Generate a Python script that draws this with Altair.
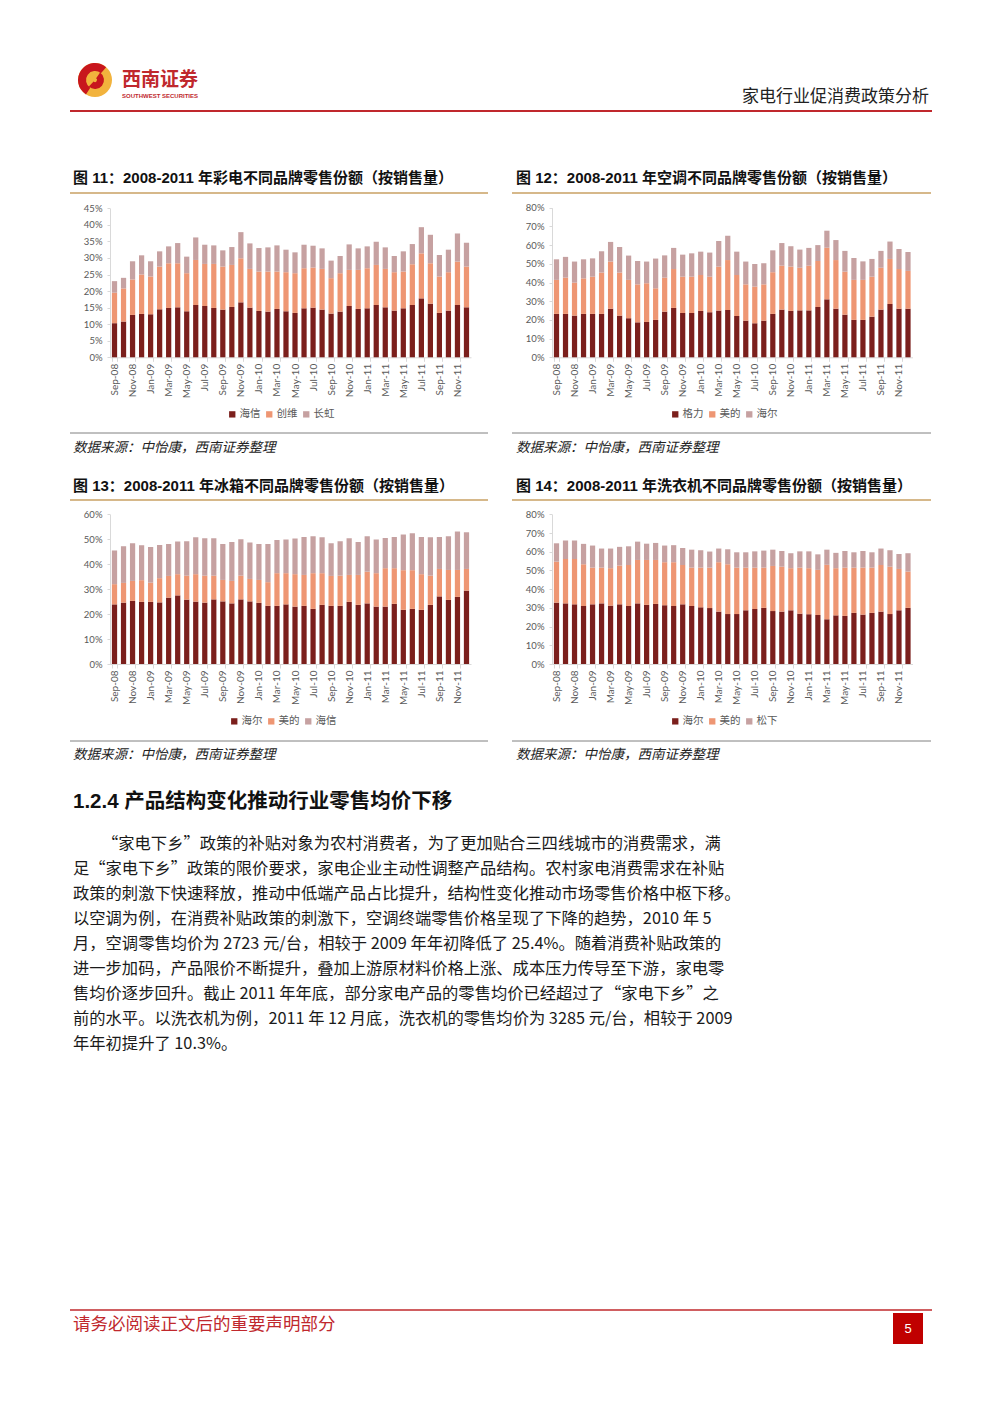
import altair as alt
import pandas as pd

# ---------------- data ----------------
months = ['Sep-08', 'Oct-08', 'Nov-08', 'Dec-08',
          'Jan-09', 'Feb-09', 'Mar-09', 'Apr-09', 'May-09', 'Jun-09',
          'Jul-09', 'Aug-09', 'Sep-09', 'Oct-09', 'Nov-09', 'Dec-09',
          'Jan-10', 'Feb-10', 'Mar-10', 'Apr-10', 'May-10', 'Jun-10',
          'Jul-10', 'Aug-10', 'Sep-10', 'Oct-10', 'Nov-10', 'Dec-10',
          'Jan-11', 'Feb-11', 'Mar-11', 'Apr-11', 'May-11', 'Jun-11',
          'Jul-11', 'Aug-11', 'Sep-11', 'Oct-11', 'Nov-11', 'Dec-11']

# 图11 彩电 (%)
tv_names = ['海信', '创维', '长虹']
tv_hisense = [10.3, 10.8, 12.8, 13.1, 13.0, 14.5, 14.9, 15.1, 13.9, 15.8,
              15.5, 14.9, 14.4, 15.2, 16.6, 15.0, 14.0, 13.8, 14.6, 13.9,
              13.4, 14.8, 15.0, 14.4, 13.2, 13.8, 15.5, 14.6, 14.8, 15.8,
              15.1, 14.1, 14.8, 15.8, 17.8, 16.2, 13.4, 14.1, 15.8, 15.1]
tv_skyworth = [9.2, 10.0, 10.7, 11.9, 11.4, 12.9, 13.5, 13.3, 11.5, 13.6,
               12.7, 13.3, 13.0, 12.7, 13.3, 11.7, 11.9, 12.1, 11.3, 11.8,
               12.0, 12.1, 12.1, 12.3, 10.7, 11.6, 10.9, 11.8, 12.1, 12.1,
               11.6, 11.6, 11.1, 12.3, 13.6, 12.2, 11.0, 11.6, 13.1, 12.3]
tv_changhong = [3.5, 3.2, 5.5, 5.8, 4.6, 4.6, 5.1, 6.1, 5.0, 6.8,
                5.8, 5.6, 4.9, 5.4, 7.9, 7.7, 7.1, 7.3, 7.9, 6.8,
                6.3, 7.1, 6.6, 6.2, 5.3, 5.2, 7.7, 6.5, 6.6, 7.0,
                6.5, 4.9, 6.1, 6.1, 7.9, 8.6, 6.5, 6.8, 8.5, 7.2]

# 图12 空调 (%)
ac_names = ['格力', '美的', '海尔']
ac_gree = [23.2, 23.2, 22.3, 23.2, 23.2, 23.2, 26.0, 22.3, 20.9, 18.7,
           18.9, 20.0, 24.4, 26.4, 23.7, 23.7, 24.8, 24.1, 25.0, 25.3,
           22.1, 19.6, 18.2, 19.6, 23.2, 25.5, 24.8, 25.1, 25.1, 26.9,
           31.0, 26.0, 22.8, 20.0, 20.0, 21.7, 25.5, 28.5, 26.0, 26.0]
ac_midea = [18.2, 19.4, 17.6, 19.0, 19.9, 22.1, 25.2, 23.0, 20.5, 20.3,
            20.7, 16.9, 18.2, 20.8, 19.4, 19.4, 19.2, 19.0, 23.5, 26.7,
            21.9, 19.4, 19.6, 19.4, 22.3, 23.5, 23.7, 22.8, 23.9, 24.6,
            27.6, 26.0, 23.0, 21.4, 21.4, 21.4, 22.4, 24.1, 21.2, 20.2]
ac_haier = [11.0, 11.1, 11.3, 10.2, 9.8, 11.4, 10.5, 13.7, 13.0, 12.5,
            11.6, 15.9, 11.9, 11.3, 11.8, 12.5, 12.5, 12.9, 13.7, 13.0,
            12.5, 12.2, 12.1, 11.3, 11.7, 12.1, 10.9, 9.7, 9.5, 8.5,
            9.1, 10.7, 11.1, 11.7, 9.9, 9.5, 9.0, 9.3, 10.7, 10.1]

# 图13 冰箱 (%)
fr_names = ['海尔', '美的', '海信']
fr_haier = [23.9, 24.6, 25.3, 24.9, 24.9, 24.7, 26.6, 27.5, 25.8, 25.0,
            24.6, 25.9, 25.1, 24.3, 25.9, 25.1, 24.5, 23.3, 23.3, 23.9,
            23.0, 23.3, 22.1, 23.7, 23.3, 23.3, 24.9, 23.7, 24.3, 23.0,
            23.0, 24.1, 21.7, 22.1, 21.7, 23.7, 27.1, 25.7, 26.9, 29.4]
fr_midea = [8.1, 7.9, 8.0, 8.7, 7.7, 9.7, 8.7, 8.5, 9.6, 11.0,
            10.8, 9.5, 8.6, 9.0, 9.5, 9.0, 9.2, 9.5, 13.1, 12.5,
            13.0, 12.4, 14.3, 12.7, 12.0, 12.1, 10.8, 12.0, 12.7, 13.4,
            15.4, 14.3, 15.9, 15.5, 14.3, 11.7, 11.0, 12.0, 10.8, 8.7]
fr_hisense = [13.5, 14.7, 15.1, 14.0, 14.3, 13.3, 12.8, 13.1, 13.8, 14.8,
              15.0, 15.0, 14.4, 15.6, 14.6, 14.6, 14.4, 15.3, 13.3, 13.5,
              14.3, 15.2, 14.8, 14.4, 13.1, 13.8, 14.7, 13.2, 14.2, 13.5,
              12.1, 12.5, 14.3, 14.8, 14.9, 15.4, 12.8, 13.5, 15.4, 14.7]

# 图14 洗衣机 (%)
wm_names = ['海尔', '美的', '松下']
wm_haier = [32.8, 32.4, 31.9, 31.0, 31.9, 32.4, 31.2, 31.9, 31.0, 32.4,
            31.6, 32.1, 31.4, 31.0, 31.9, 31.0, 30.3, 29.9, 28.0, 26.7,
            26.7, 28.7, 29.4, 30.0, 28.3, 28.0, 28.7, 26.9, 26.6, 26.2,
            23.9, 26.0, 25.7, 27.3, 26.4, 27.3, 28.0, 26.7, 28.7, 30.0]
wm_midea = [21.9, 23.7, 24.2, 22.3, 19.6, 19.1, 20.0, 20.7, 21.9, 23.2,
            24.0, 23.5, 23.0, 23.4, 21.0, 20.5, 21.2, 21.6, 26.4, 26.6,
            24.8, 22.8, 22.1, 21.5, 24.1, 24.0, 22.5, 24.6, 24.6, 24.1,
            29.1, 25.2, 25.8, 24.2, 25.1, 24.2, 24.9, 25.3, 22.1, 19.4]
wm_panasonic = [9.8, 9.9, 9.9, 10.9, 11.8, 10.2, 10.5, 10.0, 10.0, 9.8,
                8.7, 9.1, 8.9, 9.1, 9.1, 9.6, 9.3, 8.6, 7.3, 8.0,
                8.2, 8.2, 8.7, 9.1, 8.7, 8.4, 8.0, 8.7, 9.0, 8.3,
                8.1, 8.2, 8.9, 8.2, 8.9, 8.2, 8.8, 8.8, 8.0, 9.8]

titles = ['图 11：2008-2011 年彩电不同品牌零售份额（按销售量）',
          '图 12：2008-2011 年空调不同品牌零售份额（按销售量）',
          '图 13：2008-2011 年冰箱不同品牌零售份额（按销售量）',
          '图 14：2008-2011 年洗衣机不同品牌零售份额（按销售量）']
source_text = '数据来源：中怡康，西南证券整理'
header_title = '家电行业促消费政策分析'
section_title = '1.2.4 产品结构变化推动行业零售均价下移'
paragraph_first = '“家电下乡”政策的补贴对象为农村消费者，为了更加贴合三四线城市的消费需求，满'
paragraph_rest = [
    '足“家电下乡”政策的限价要求，家电企业主动性调整产品结构。农村家电消费需求在补贴',
    '政策的刺激下快速释放，推动中低端产品占比提升，结构性变化推动市场零售价格中枢下移。',
    '以空调为例，在消费补贴政策的刺激下，空调终端零售价格呈现了下降的趋势，2010 年 5',
    '月，空调零售均价为 2723 元/台，相较于 2009 年年初降低了 25.4%。随着消费补贴政策的',
    '进一步加码，产品限价不断提升，叠加上游原材料价格上涨、成本压力传导至下游，家电零',
    '售均价逐步回升。截止 2011 年年底，部分家电产品的零售均价已经超过了“家电下乡”之',
    '前的水平。以洗衣机为例，2011 年 12 月底，洗衣机的零售均价为 3285 元/台，相较于 2009',
    '年年初提升了 10.3%。',
]
footer_text = '请务必阅读正文后的重要声明部分'
page_no = '5'

# ---------------- styles ----------------
CJK = 'Noto Sans CJK SC'
NUM = 'Lato'
DARK, MID, LIGHT = '#7B1F1C', '#EE9673', '#C6A1A1'
RED = '#C0282D'
GOLD = '#C9A063'
W, H = 984, 1399


def long_df(names, series):
    rows = []
    for k, (n, vals) in enumerate(zip(names, series)):
        for m, v in zip(months, vals):
            rows.append({'month': m, 'brand': n, 'value': v / 100.0, 'idx': k})
    return pd.DataFrame(rows)


def bar_chart(names, series, xr, yr, ymax, ystep, leg_x, leg_y):
    df = long_df(names, series)
    nt = int(round(ymax / ystep)) + 1
    yvals = [round(i * ystep, 4) for i in range(nt)]
    return alt.Chart(df).mark_bar().encode(
        x=alt.X('month:N', sort=months,
                scale=alt.Scale(range=xr, paddingInner=0.42, paddingOuter=0.21),
                axis=alt.Axis(title=None, orient='bottom', offset=yr[0] - H,
                              values=months[::2], labelAngle=270,
                              labelFont=NUM, labelFontSize=10, labelColor='#595959',
                              labelPadding=2, tickBand='extent', tickSize=4,
                              tickColor='#D9D9D9', domainColor='#D9D9D9',
                              grid=False, labelOverlap=False)),
        y=alt.Y('value:Q', stack='zero',
                scale=alt.Scale(domain=[0, ymax], range=yr, nice=False),
                axis=alt.Axis(title=None, orient='left', offset=-xr[0],
                              values=yvals, format='.0%',
                              labelFont=NUM, labelFontSize=9.5, labelColor='#595959',
                              labelPadding=5, tickSize=3, tickColor='#D9D9D9',
                              domainColor='#D9D9D9', grid=False)),
        color=alt.Color('brand:N',
                        scale=alt.Scale(domain=names, range=[DARK, MID, LIGHT]),
                        legend=alt.Legend(orient='none', legendX=leg_x, legendY=leg_y,
                                          direction='horizontal', title=None,
                                          symbolType='square', symbolSize=40,
                                          symbolStrokeWidth=0, labelFont=CJK,
                                          labelFontSize=10.5, labelColor='#595959',
                                          columnPadding=3, labelOffset=2, padding=0)),
        order=alt.Order('idx:Q', sort='ascending'),
    )


one = pd.DataFrame({'k': [0]})


def txt(s, x, y, size, color='#1a1a1a', weight='normal', align='left',
        font=CJK, italic=False, baseline='middle', line_height=None):
    kw = dict(text=s, align=align, baseline=baseline, fontSize=size, font=font,
              color=color, fontWeight=weight)
    if italic:
        kw['fontStyle'] = 'italic'
    if line_height:
        kw['lineHeight'] = line_height
    return alt.Chart(one).mark_text(**kw).encode(x=alt.value(x), y=alt.value(y))


def hline(x1, x2, y, color, w=1.0):
    return alt.Chart(one).mark_rule(color=color, strokeWidth=w).encode(
        x=alt.value(x1), x2=alt.value(x2), y=alt.value(y))


def rect(x1, x2, y1, y2, color):
    return alt.Chart(one).mark_rect(color=color).encode(
        x=alt.value(x1), x2=alt.value(x2), y=alt.value(y1), y2=alt.value(y2))


def arc(cx, cy, t1, t2, r, r2, color):
    return alt.Chart(one).mark_arc(theta=t1, theta2=t2, radius=r, radius2=r2,
                                   color=color).encode(x=alt.value(cx), y=alt.value(cy))


# ---------------- charts ----------------
c1 = bar_chart(tv_names, [tv_hisense, tv_skyworth, tv_changhong],
               [102, 463], [349.3, 200.3], 0.45, 0.05, 219, 401)
c2 = bar_chart(ac_names, [ac_gree, ac_midea, ac_haier],
               [544, 904.5], [349.3, 199.7], 0.8, 0.1, 662, 401)
c3 = bar_chart(fr_names, [fr_haier, fr_midea, fr_hisense],
               [102, 463], [656, 506.3], 0.6, 0.1, 221, 708)
c4 = bar_chart(wm_names, [wm_haier, wm_midea, wm_panasonic],
               [544, 904.5], [656, 506.3], 0.8, 0.1, 662, 708)

TFONT = 'Liberation Sans, ' + CJK
PFONT = CJK + ', Liberation Sans'
deco = [
    # header logo
    arc(87, 72, 0, 6.2832, 17, 0, '#F2B33D'),
    arc(87, 72, 3.7, 7.0, 17, 9, '#C8161D'),
    arc(87, 72, 0.6, 3.9, 9, 2, '#C8161D'),
    txt('西南证券', 114, 72, 19, RED, 'bold'),
    txt('SOUTHWEST SECURITIES', 114, 88, 6, RED, 'bold', font='Liberation Sans'),
    txt(header_title, 921, 89, 17, '#222222', align='right'),
    hline(62, 924, 103, RED, 2),
    # chart titles, rules, sources
    txt(titles[0], 65, 170, 15, '#111111', 'bold', font=TFONT),
    txt(titles[1], 508, 170, 15, '#111111', 'bold', font=TFONT),
    txt(titles[2], 65, 478, 15, '#111111', 'bold', font=TFONT),
    txt(titles[3], 508, 478, 15, '#111111', 'bold', font=TFONT),
    hline(62, 480, 185, GOLD, 1.5),
    hline(504, 923, 185, GOLD, 1.5),
    hline(62, 480, 492, GOLD, 1.5),
    hline(504, 923, 492, GOLD, 1.5),
    hline(62, 480, 425, '#808080', 1),
    hline(504, 923, 425, '#808080', 1),
    hline(62, 480, 733, '#808080', 1),
    hline(504, 923, 733, '#808080', 1),
    txt(source_text, 65, 440, 13.5, '#222222', italic=True),
    txt(source_text, 508, 440, 13.5, '#222222', italic=True),
    txt(source_text, 65, 747, 13.5, '#222222', italic=True),
    txt(source_text, 508, 747, 13.5, '#222222', italic=True),
    # section
    txt(section_title, 65, 794, 20.5, '#111111', 'bold', font=TFONT),
    txt(paragraph_first, 94, 841, 16.3, '#1a1a1a', baseline='alphabetic', font=PFONT),
    txt(paragraph_rest, 65, 866, 16.3, '#1a1a1a', baseline='alphabetic',
        line_height=25, font=PFONT),
    # footer
    hline(62, 924, 1302, RED, 1.5),
    txt(footer_text, 65, 1317, 17.5, RED),
    rect(885, 915, 1305, 1336, '#C00000'),
    txt(page_no, 900, 1321, 13, '#FFFFFF', align='center', font='Liberation Sans'),
]

chart = alt.layer(c1, c2, c3, c4, *deco).resolve_scale(
    x='independent', y='independent', color='independent'
).properties(
    width=W, height=H, padding=0, background='white',
    autosize=alt.AutoSizeParams(type='none'),
).configure_view(strokeWidth=0)

chart.save('out.html', embed_options={'renderer': 'svg', 'actions': False})
